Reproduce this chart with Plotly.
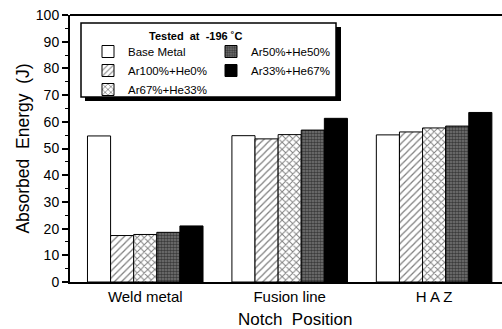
import plotly.graph_objects as go

positions = ["Weld metal", "Fusion line", "H A Z"]
series_names = ["Base Metal", "Ar100%+He0%", "Ar67%+He33%", "Ar50%+He50%", "Ar33%+He67%"]
base_metal = [54.7, 54.8, 55.1]
ar100_he0 = [17.4, 53.6, 56.2]
ar67_he33 = [17.8, 55.2, 57.7]
ar50_he50 = [18.6, 56.9, 58.4]
ar33_he67 = [21.0, 61.3, 63.5]
y_ticks = [0, 10, 20, 30, 40, 50, 60, 70, 80, 90, 100]

W, H = 502, 329
ML, MR, MT, MB = 70, 0, 15, 47
PW, PH = W - ML - MR, H - MT - MB

def px(x):
    return (x - ML) / PW

def py(y):
    return (H - MB - y) / PH

FONT = "Liberation Sans, Arial, sans-serif"

styles = [
    dict(color="white", pattern=None),
    dict(color="white", pattern=dict(shape="/", fgcolor="black", bgcolor="white", size=5, solidity=0.25)),
    dict(color="white", pattern=dict(shape="x", fgcolor="black", bgcolor="white", size=5, solidity=0.35)),
    dict(color="#555", pattern=dict(shape=".", fgcolor="#000", bgcolor="#777", size=3, solidity=0.55)),
    dict(color="black", pattern=None),
]
values = [base_metal, ar100_he0, ar67_he33, ar50_he50, ar33_he67]
legends = ["legend", "legend", "legend", "legend2", "legend2"]

fig = go.Figure()
for name, vals, st, lg in zip(series_names, values, styles, legends):
    marker = dict(color=st["color"], line=dict(color="black", width=1))
    if st["pattern"]:
        marker["pattern"] = st["pattern"]
    fig.add_trace(go.Bar(x=positions, y=vals, name=name, marker=marker, legend=lg))

fig.update_layout(
    width=W, height=H,
    margin=dict(l=ML, r=MR, t=MT, b=MB, autoexpand=False),
    paper_bgcolor="white", plot_bgcolor="white",
    barmode="group", bargap=0.2, bargroupgap=0.0,
    font=dict(family=FONT, color="black"),
    legend=dict(x=px(88), y=py(37), xanchor="left", yanchor="top",
                bgcolor="rgba(0,0,0,0)", font=dict(size=11.5, family=FONT),
                tracegroupgap=0, traceorder="normal"),
    legend2=dict(x=px(211), y=py(37), xanchor="left", yanchor="top",
                 bgcolor="rgba(0,0,0,0)", font=dict(size=11.5, family=FONT),
                 tracegroupgap=0, traceorder="normal"),
    xaxis=dict(
        range=[-0.521, 2.47], showline=True, linecolor="black", linewidth=2,
        mirror=False, ticks="", tickfont=dict(size=15, family=FONT),
        showgrid=False, zeroline=False,
    ),
    yaxis=dict(
        range=[0, 100], tickvals=y_ticks, showline=True, linecolor="black", linewidth=2,
        mirror=False,
        ticks="outside", ticklen=6, tickwidth=1.5, tickcolor="black",
        minor=dict(dtick=5, ticks="outside", ticklen=3, tickcolor="black", tickwidth=1),
        tickfont=dict(size=14, family=FONT),
        title=dict(text="Absorbed\u00a0\u00a0Energy\u00a0\u00a0(J)", font=dict(size=17.5, family=FONT), standoff=2),
        showgrid=False, zeroline=False,
    ),
    shapes=[
        dict(type="line", xref="paper", yref="paper", x0=0, x1=1, y0=1, y1=1,
             line=dict(color="black", width=2), layer="above"),
        dict(type="rect", xref="paper", yref="paper", x0=px(85), x1=px(341), y0=py(101), y1=py(27),
             fillcolor="black", line=dict(width=0), layer="above"),
        dict(type="rect", xref="paper", yref="paper", x0=px(81), x1=px(336), y0=py(97), y1=py(23),
             fillcolor="white", line=dict(color="black", width=1.5), layer="above"),
    ],
    annotations=[
        dict(text="<b>Tested\u00a0\u00a0at\u00a0\u00a0-196 \u02daC</b>", xref="paper", yref="paper",
             x=px(195), y=py(36), showarrow=False, font=dict(size=11, family=FONT),
             xanchor="center", yanchor="middle"),
        dict(text="Notch\u00a0\u00a0Position", xref="paper", yref="paper",
             x=px(295), y=py(319), showarrow=False, font=dict(size=17, family=FONT),
             xanchor="center", yanchor="middle"),
    ],
)

fig.write_html(
    "out.html",
    post_script="document.documentElement.style.overflow='hidden';document.body.style.overflow='hidden';document.body.style.margin='0';",
)
